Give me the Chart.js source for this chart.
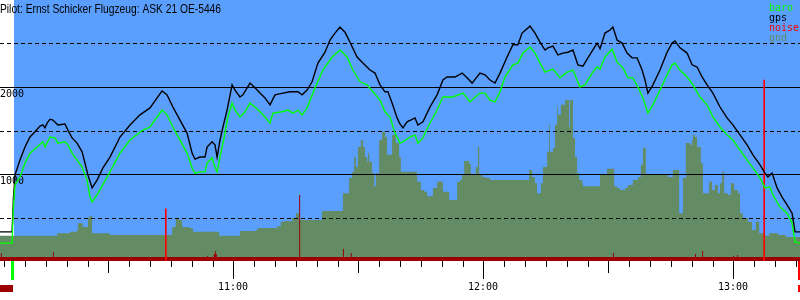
<!DOCTYPE html>
<html>
<head>
<meta charset="utf-8">
<script src="https://cdn.jsdelivr.net/npm/chart.js@4"></script>
<style>
  html, body { margin: 0; padding: 0; background: #fff; }
  #wrap { width: 800px; height: 300px; }
</style>
</head>
<body>
<div id="wrap"><canvas id="flight" width="800" height="300"></canvas></div>
<script>
// times are minutes after midnight, heights in metres
const title = 'Pilot: Ernst Schicker Flugzeug: ASK 21 OE-5446';
const takeoffTime = 607.3;
const landingTime = 795.5;

const gpsTimes = [604.0,606.9,607.2,607.6,608.8,610.0,611.2,612.4,613.6,614.3,614.8,615.3,616.0,616.7,617.9,619.6,620.3,621.3,622.5,623.7,624.4,625.1,626.1,627.3,628.7,630.4,632.8,635.2,637.6,640.0,641.7,642.9,644.1,645.5,647.2,648.9,650.1,650.8,652.0,653.2,653.7,654.9,655.6,656.1,656.8,657.5,658.5,659.7,660.4,661.6,662.3,664.0,665.2,666.4,667.6,668.8,670.0,671.9,673.6,675.5,676.5,677.7,678.9,680.3,682.0,683.2,684.4,685.6,686.8,688.0,689.7,691.1,692.8,694.0,695.2,696.4,697.1,698.1,699.3,700.0,700.7,701.7,703.6,704.3,705.5,707.2,708.9,710.3,711.3,713.2,714.9,716.1,717.3,719.2,720.4,721.6,722.8,724.0,725.7,727.1,728.3,729.3,731.2,732.4,733.6,734.8,735.5,736.7,737.9,739.1,740.3,741.5,742.7,743.9,745.1,747.3,748.0,749.2,750.4,751.1,752.1,753.3,754.5,755.7,756.9,758.1,758.8,759.5,760.7,762.4,764.1,765.3,766.0,767.2,768.9,770.1,771.3,772.5,773.7,775.1,776.8,778.5,779.9,781.6,783.3,784.7,786.4,787.6,788.3,789.3,790.5,791.7,792.9,794.1,794.8,796.0];
const gpsAlt = [335,335,700,990,1160,1310,1425,1485,1550,1565,1530,1585,1630,1620,1563,1575,1505,1415,1355,1255,1125,990,840,930,1070,1195,1425,1563,1680,1760,1875,1955,1910,1770,1620,1470,1240,1170,1195,1195,1310,1370,1335,1195,1390,1540,1735,2025,1965,1885,1910,2045,1990,1930,1875,1795,1910,1930,1945,1945,1910,1965,2060,2275,2400,2540,2620,2690,2630,2515,2345,2275,2195,2160,2025,1945,1945,1815,1645,1575,1530,1600,1645,1563,1600,1770,1910,2080,2115,2115,2160,2105,2045,2160,2140,2080,2045,2160,2345,2485,2485,2620,2700,2620,2515,2425,2450,2470,2370,2390,2400,2425,2255,2240,2335,2505,2440,2620,2655,2690,2540,2505,2390,2335,2335,2195,2080,1930,2025,2195,2400,2505,2530,2450,2390,2255,2230,2115,2025,1930,1770,1645,1565,1450,1335,1220,1105,1010,965,1010,840,735,645,550,335,335];

const baroTimes = [604.0,606.9,607.2,607.6,608.8,610.0,611.2,612.9,614.3,614.8,616.0,617.2,617.9,619.6,620.3,621.3,622.5,623.7,624.9,625.6,626.1,627.3,629.7,632.8,635.2,638.3,640.0,641.7,642.9,644.1,645.5,647.2,648.9,650.1,650.8,652.0,653.2,653.7,654.9,655.6,656.1,656.8,658.0,658.7,659.7,660.4,661.6,662.8,664.0,665.2,666.4,667.6,668.8,669.5,671.7,673.1,674.3,675.5,676.5,677.7,679.6,681.5,683.7,685.6,687.3,688.7,690.4,692.1,693.5,695.2,696.4,697.6,698.8,700.0,700.7,702.4,703.6,704.3,705.5,706.7,708.9,710.3,712.7,715.1,716.8,719.2,720.4,721.6,722.8,724.0,725.2,727.1,728.3,729.5,731.2,732.4,733.6,734.8,736.7,738.4,740.1,741.5,742.5,743.2,744.4,746.1,747.3,748.0,749.2,750.9,752.1,753.5,754.7,755.9,757.1,758.3,759.5,760.7,762.4,764.1,765.3,766.0,767.2,768.9,770.3,772.0,773.7,775.1,776.8,778.5,779.9,781.6,783.3,784.7,786.4,787.6,788.8,789.5,791.2,792.9,794.1,794.8,796.0];
const baroAlt = [205,205,600,875,965,1125,1240,1310,1370,1310,1425,1415,1355,1370,1335,1240,1160,1080,930,735,680,760,965,1240,1390,1505,1540,1655,1735,1680,1540,1390,1240,1070,1010,1025,1025,1125,1185,1080,1025,1195,1470,1655,1815,1735,1655,1715,1815,1770,1715,1655,1585,1700,1715,1735,1700,1735,1680,1760,1990,2195,2345,2425,2345,2195,2060,2025,1945,1850,1715,1655,1470,1355,1370,1425,1450,1355,1415,1540,1735,1885,1885,1930,1830,1930,1930,1850,1830,1945,2115,2255,2275,2390,2460,2390,2275,2170,2205,2105,2170,2195,2080,2000,2025,2160,2230,2205,2345,2435,2285,2220,2105,2105,2000,1875,1700,1795,1965,2140,2255,2275,2195,2115,2025,1885,1795,1655,1540,1450,1390,1275,1160,1070,955,840,850,760,620,550,435,220,205];

const gndTimes = [604.0,617.7,620.8,622.5,622.7,623.9,625.1,625.4,626.1,630.4,645.3,646.2,647.0,647.7,649.4,650.3,656.6,661.6,665.4,665.9,670.5,671.4,672.4,673.6,674.1,675.0,675.8,681.3,686.3,687.8,688.5,689.0,689.4,689.9,690.6,691.1,691.6,692.1,692.3,692.6,693.3,693.8,694.2,695.0,695.7,696.4,696.9,698.1,699.0,699.8,700.2,704.1,705.0,705.8,706.5,707.9,708.9,710.3,711.8,713.7,714.4,714.9,715.4,716.6,717.0,718.2,718.7,719.0,719.7,720.6,721.6,731.0,731.7,732.4,732.9,733.8,734.3,735.3,735.8,736.0,736.7,737.2,737.7,737.9,738.6,739.6,740.6,740.8,741.5,742.0,742.5,743.0,743.7,743.9,748.0,749.7,751.4,752.1,752.8,754.0,754.7,755.9,757.1,757.8,758.3,759.0,764.3,765.5,767.0,767.9,768.6,769.6,770.1,770.3,770.8,771.3,772.2,772.7,774.2,774.9,775.6,776.3,776.8,777.3,777.8,778.7,779.4,780.2,781.1,781.6,782.3,783.5,784.5,785.4,786.2,787.4,788.6,790.7,792.6,796.0];
const gndAlt = [290,320,335,355,435,390,495,515,320,300,390,495,470,390,380,335,290,345,355,380,400,450,460,450,495,550,470,575,780,955,1025,1195,1080,1310,1390,1310,1195,1140,1240,1140,1010,860,1010,1390,1485,1425,1220,1450,1355,1195,1025,910,815,795,745,840,910,795,700,910,930,990,1150,1115,990,1080,1310,990,965,955,930,1045,965,895,780,895,1080,1255,1565,1255,1300,1565,1770,1680,1795,1850,1540,1850,1415,1195,1010,930,895,860,990,1060,860,840,815,840,875,930,965,1105,1300,990,965,1045,550,955,1355,1335,1390,1450,1425,1310,1125,780,910,815,875,780,895,1025,780,760,895,815,780,550,495,450,355,450,320,290,320,300,275,275];

const noiseTimes = [604.0,604.2,604.44,616.7,616.94,653.7,653.94,655.3,655.6,655.8,656.04,675.8,676.04,686.3,686.54,688.2,688.44,751.1,751.34,770.8,771.04,772.5,772.74,779.9,780.14,780.9,781.14,796.0];
const noiseVals = [45,90,45,100,45,60,45,80,115,80,45,760,45,140,45,92,45,95,45,80,45,115,45,60,45,70,45,45];

const peakTimes = [643.8, 787.4];
const peakVals = [600, 2080];

const hourTicks = [660, 720, 780];
const hourLabels = ['11:00', '12:00', '13:00'];
const solidLevels = [1000, 2000];
const dashedLevels = [500, 1500, 2500];
const legendNames = ['baro', 'gps', 'noise', 'gnd'];

const colors = { baro: '#00ff00', gps: '#000000', noise: '#ff0000', gnd: '#648c64', noiseLow: '#9c0000', sky: '#5a9efe' };
const monoFont = '10px "DejaVu Sans Mono", monospace';

function pts(times, vals) {
  return times.map((t, i) => ({ x: t, y: vals[i] }));
}

const flightDeco = {
  id: 'flightDeco',
  beforeDatasetsDraw(chart) {
    const { ctx, chartArea: a, scales: { x } } = chart;
    const x0 = Math.round(x.getPixelForValue(takeoffTime));
    ctx.save();
    ctx.fillStyle = colors.sky;
    ctx.fillRect(x0, a.top, a.right - x0, a.bottom - a.top);
    ctx.restore();
  },
  afterDatasetDraw(chart, args) {
    if (chart.data.datasets[args.index].label !== 'gnd') return;
    const { ctx, scales: { y } } = chart;
    ctx.save();
    ctx.strokeStyle = '#000';
    ctx.lineWidth = 1;
    ctx.font = monoFont;
    ctx.fillStyle = '#000';
    solidLevels.forEach(v => {
      const py = Math.round(y.getPixelForValue(v));
      ctx.beginPath();
      ctx.moveTo(0, py + 0.5);
      ctx.lineTo(chart.width, py + 0.5);
      ctx.stroke();
      ctx.fillText(String(v), 0, py + 10);
    });
    ctx.setLineDash([4, 3]);
    dashedLevels.forEach(v => {
      const py = Math.round(y.getPixelForValue(v));
      ctx.beginPath();
      ctx.moveTo(0, py + 0.5);
      ctx.lineTo(chart.width, py + 0.5);
      ctx.stroke();
    });
    ctx.restore();
  },
  afterDraw(chart) {
    const { ctx, chartArea: a, scales: { x } } = chart;
    ctx.save();
    // time ticks every 5 minutes
    ctx.strokeStyle = '#000';
    ctx.lineWidth = 1;
    for (let t = 605; t <= x.max; t += 5) {
      const px = Math.round(x.getPixelForValue(t)) + 0.5;
      const len = t % 60 === 0 ? 18 : (t % 30 === 0 ? 12 : 6);
      ctx.beginPath();
      ctx.moveTo(px, a.bottom);
      ctx.lineTo(px, a.bottom + len);
      ctx.stroke();
    }
    ctx.font = monoFont;
    ctx.fillStyle = '#000';
    ctx.textAlign = 'center';
    hourTicks.forEach((t, i) => {
      ctx.fillText(hourLabels[i], Math.round(x.getPixelForValue(t)), a.bottom + 29);
    });
    // takeoff / landing markers
    const xt = Math.round(x.getPixelForValue(takeoffTime));
    const xl = Math.round(x.getPixelForValue(landingTime));
    ctx.fillStyle = colors.baro;
    ctx.fillRect(xt - 3, a.bottom, 3, 19);
    ctx.fillStyle = colors.noiseLow;
    ctx.fillRect(0, a.bottom + 24, xt - 1, 7);
    ctx.fillStyle = colors.noise;
    ctx.fillRect(xl, a.bottom, 2, 19);
    ctx.fillRect(xl, a.bottom + 24, a.right - xl, 7);
    // legend
    ctx.textAlign = 'left';
    legendNames.forEach((name, i) => {
      ctx.fillStyle = colors[name];
      ctx.fillText(name, 769, 11 + i * 10);
    });
    // title, squeezed to the narrow width of the original
    ctx.fillStyle = '#000';
    ctx.font = '12px "Liberation Sans", sans-serif';
    const w = ctx.measureText(title).width;
    ctx.translate(0, 13);
    ctx.scale(221 / w, 1);
    ctx.fillText(title, 0, 0);
    ctx.restore();
  }
};

new Chart(document.getElementById('flight'), {
  type: 'line',
  data: {
    datasets: [
      { label: 'baro', data: pts(baroTimes, baroAlt), borderColor: colors.baro, borderWidth: 1.4, pointRadius: 0, order: 1 },
      { label: 'gps', data: pts(gpsTimes, gpsAlt), borderColor: colors.gps, borderWidth: 1.4, pointRadius: 0, order: 2 },
      { type: 'bar', label: 'noise', data: pts(peakTimes, peakVals), backgroundColor: colors.noise, barThickness: 1, grouped: false, order: 3 },
      { label: 'noise-low', data: pts(noiseTimes, noiseVals), borderColor: colors.noiseLow, backgroundColor: colors.noiseLow, borderWidth: 0, stepped: 'before', fill: 'origin', pointRadius: 0, order: 4 },
      { label: 'gnd', data: pts(gndTimes, gndAlt), backgroundColor: colors.gnd, borderWidth: 0, stepped: 'before', fill: 'origin', pointRadius: 0, order: 5 }
    ]
  },
  options: {
    responsive: false,
    animation: false,
    events: [],
    layout: { padding: { left: 0, top: 0, right: 0, bottom: 39 } },
    scales: {
      x: { type: 'linear', min: 604, max: 796, offset: false, display: false },
      y: { type: 'linear', min: 0, max: 3000, display: false }
    },
    plugins: { legend: { display: false }, tooltip: { enabled: false } }
  },
  plugins: [flightDeco]
});
</script>
</body>
</html>
